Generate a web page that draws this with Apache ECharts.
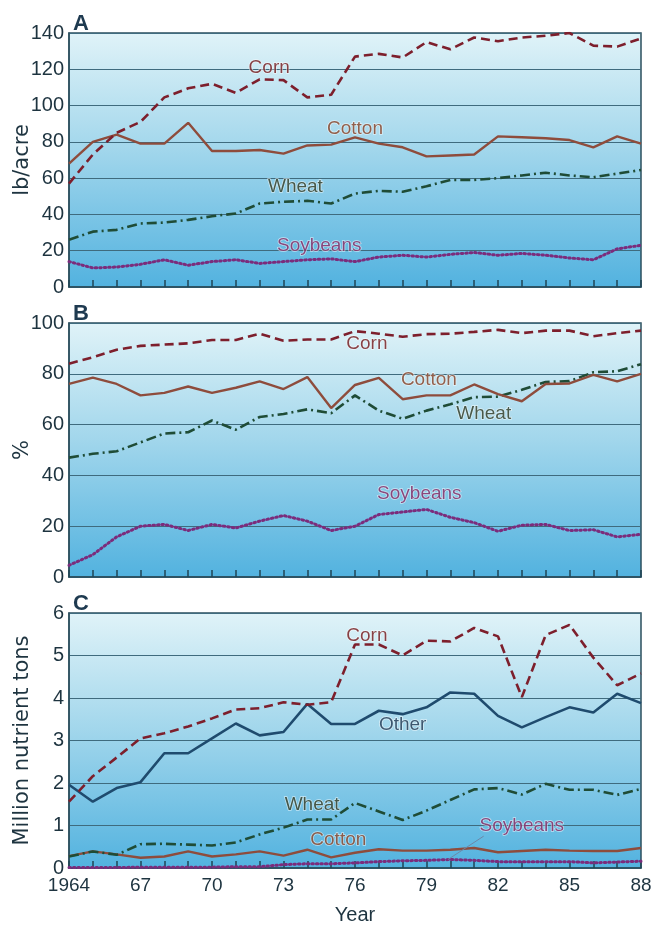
<!DOCTYPE html>
<html><head><meta charset="utf-8">
<script src="https://cdn.jsdelivr.net/npm/echarts@6/dist/echarts.min.js"></script>
<style>html,body{margin:0;padding:0;background:#fff}#c{width:652px;height:929px}</style>
</head><body><div id="c"></div>
<script>
const years = [1964,1965,1966,1967,1968,1969,1970,1971,1972,1973,1974,1975,1976,1977,1978,1979,1980,1981,1982,1983,1984,1985,1986,1987,1988];
const xTickLabels = ['1964','67','70','73','76','79','82','85','88'];

// Panel A: yield, lb/acre
const aCorn     = [57,73,85,91,104.5,109.5,112,107,114.5,114,104.5,106,127,128.5,126.5,135,131,137.5,135.5,137.5,138.5,140,133,132.5,137];
const aCotton   = [68,80,84,79,79,90.5,75,75,75.5,73.5,78,78.5,82.5,79,77,72,72.5,73,83,82.5,82,81,77,83,79];
const aWheat    = [26,30.5,31.5,35,35.5,37,39,40.5,46,47,47.5,46,51.5,53,52.5,55.5,59,59,60,61.5,63,61.5,60.5,62.5,64.5];
const aSoybeans = [14,10.5,11,12.5,15,12,14,15,13,14,15,15.5,14,16.5,17.5,16.5,18,19,17.5,18.5,17.5,16,15,21,23];

// Panel B: % of acreage fertilized
const bCorn     = [84,86.5,89.5,91,91.5,92,93.3,93.3,95.8,93,93.5,93.5,96.8,95.8,94.6,95.6,95.8,96.5,97.3,96,97,97,94.8,96,97];
const bCotton   = [76,78.5,76,71.5,72.5,75,72.5,74.5,77,74,78.7,66.5,75.6,78.4,70,71.5,71.5,75.8,72,69.2,76,76.2,79.6,77,80];
const bWheat    = [47,48.5,49.5,53,56.5,57,61.6,58,63,64.2,66,64.5,71.5,65.5,62.3,65.5,68,70.8,71,73.7,76.8,77.1,80.6,81,83.8];
const bSoybeans = [4.6,8.8,15.8,20,20.7,18.3,20.7,19.3,22,24.2,22,18.3,20,24.6,25.6,26.6,23.5,21.4,18,20.4,20.7,18.3,18.6,15.8,16.8];

// Panel C: million nutrient tons
const cCorn     = [1.56,2.16,2.6,3.05,3.17,3.33,3.52,3.73,3.76,3.9,3.84,3.9,5.26,5.26,5.0,5.35,5.33,5.65,5.45,4.02,5.48,5.72,4.95,4.3,4.58];
const cOther    = [1.96,1.56,1.88,2.02,2.7,2.7,3.05,3.4,3.12,3.2,3.86,3.39,3.39,3.7,3.62,3.78,4.13,4.1,3.58,3.31,3.55,3.78,3.66,4.1,3.88];
const cWheat    = [0.27,0.39,0.31,0.56,0.57,0.55,0.53,0.6,0.79,0.95,1.14,1.14,1.53,1.33,1.13,1.35,1.6,1.85,1.88,1.73,1.98,1.84,1.84,1.72,1.86];
const cCotton   = [0.28,0.39,0.32,0.24,0.27,0.39,0.27,0.32,0.39,0.29,0.43,0.25,0.36,0.44,0.41,0.41,0.43,0.47,0.37,0.4,0.43,0.41,0.4,0.4,0.47];
const cSoybeans = [0.01,0.01,0.01,0.02,0.02,0.02,0.02,0.03,0.03,0.08,0.1,0.1,0.12,0.15,0.17,0.18,0.2,0.18,0.15,0.15,0.15,0.15,0.12,0.14,0.16];

// text annotations: [year, value, text, colorKey]
const aLabels = [[1972.4,121,'Corn','corn'],[1976,87,'Cotton','cotton'],[1973.5,55.5,'Wheat','wheat'],[1974.5,23,'Soybeans','soy']];
const bLabels = [[1976.5,92,'Corn','corn'],[1979.1,77.5,'Cotton','cotton'],[1981.4,64.2,'Wheat','wheat'],[1978.7,32.6,'Soybeans','soy']];
const cLabels = [[1976.5,5.47,'Corn','corn'],[1978,3.37,'Other','other'],[1974.2,1.48,'Wheat','wheat'],[1975.3,0.66,'Cotton','cotton'],[1983,1.0,'Soybeans','soy']];
const soyLeader = [[1981.4,0.75],[1979.9,0.2]];

const col = {corn:'#7d1f2c', cotton:'#8e4c3c', wheat:'#1f4c36', soy:'#7b2c7c', other:'#1f4b6e'};
const txt = {corn:'#6e1418', cotton:'#7e3c22', wheat:'#26341f', soy:'#7a1f5e', other:'#16324d'};
const axisColor = '#1e3440';
const FF = 'Liberation Sans, Arial';
const FN = 'DejaVu Sans';

const grids = [
  {left:69, right:11, top:33, height:254},
  {left:69, right:11, top:323, height:254},
  {left:69, right:11, top:613, height:255}
];
const bg = {type:'linear', x:0, y:0, x2:0, y2:1, colorStops:[
  {offset:0, color:'#e0f3f8'},{offset:0.45, color:'#a3d7ec'},{offset:1, color:'#52b2df'}]};
grids.forEach(g => { g.show = true; g.backgroundColor = bg; g.borderColor = '#2b4f5e'; g.borderWidth = 1.5;
  g.containLabel = false; g.outerBoundsMode = 'none'; });

function xAx(i, showLabels) {
  return {
    type:'value', gridIndex:i, min:1964, max:1988, interval:1,
    axisLine:{show:true, lineStyle:{color:'#2b4f5e', width:1.5}},
    axisTick:{show:true, inside:true, length:7, lineStyle:{color:'#1f4556', width:1.5}},
    splitLine:{show:false},
    axisLabel:{show:showLabels, color:axisColor, fontSize:19, fontFamily:FF, margin:8, hideOverlap:false,
      formatter: v => { const k = (v - 1964) / 3; return Number.isInteger(k) && k < xTickLabels.length ? xTickLabels[k] : ''; }},
    name: showLabels ? 'Year' : '', nameLocation:'middle', nameGap:37, nameMoveOverlap:false,
    nameTextStyle:{color:axisColor, fontSize:20, fontFamily:FF}
  };
}
function yAx(i, max, interval, name) {
  return {
    type:'value', gridIndex:i, min:0, max:max, interval:interval,
    axisLine:{show:true, lineStyle:{color:'#2b4f5e', width:1.5}},
    axisTick:{show:false},
    splitLine:{show:true, lineStyle:{color:'#3f6b7e', width:1}},
    axisLabel:{color:axisColor, fontSize:20, fontFamily:FF, margin:5},
    name:name, nameLocation:'middle', nameGap:36, nameMoveOverlap:false,
    nameTextStyle:{color:axisColor, fontSize:21, fontFamily:FN}
  };
}

const styles = {
  corn:{type:[9,5], width:2.6},
  cotton:{type:'solid', width:2.4},
  wheat:{type:[10,4,2,4], width:2.6},
  soy:{type:[1.5,3], width:3, cap:'round'},
  other:{type:'solid', width:2.6}
};
function line(i, data, key) {
  return {
    type:'line', xAxisIndex:i, yAxisIndex:i, data: years.map((y,k)=>[y,data[k]]),
    showSymbol:false, symbol:'none', smooth:false, silent:true,
    lineStyle:Object.assign({color:col[key]}, styles[key]), z:3
  };
}
function labels(i, arr) {
  return {
    type:'scatter', xAxisIndex:i, yAxisIndex:i, symbolSize:0, silent:true, z:5,
    data: arr.map(a => ({value:[a[0], a[1]], label:{show:true, formatter:a[2], position:'inside',
      color:txt[a[3]], fontSize:19, fontFamily:FF,
      textBorderColor:'rgba(255,255,255,0.7)', textBorderWidth:1.5}}))
  };
}

const series = [
  line(0,aSoybeans,'soy'), line(0,aWheat,'wheat'), line(0,aCotton,'cotton'), line(0,aCorn,'corn'), labels(0,aLabels),
  line(1,bSoybeans,'soy'), line(1,bWheat,'wheat'), line(1,bCotton,'cotton'), line(1,bCorn,'corn'), labels(1,bLabels),
  line(2,cSoybeans,'soy'), line(2,cCotton,'cotton'), line(2,cWheat,'wheat'), line(2,cOther,'other'), line(2,cCorn,'corn'), labels(2,cLabels),
  {type:'line', xAxisIndex:2, yAxisIndex:2, data:soyLeader, showSymbol:false, silent:true, z:4,
   lineStyle:{color:'#6c88a8', width:1}}
];

const chart = echarts.init(document.getElementById('c'), null, {renderer:'canvas'});
chart.setOption({
  animation:false,
  backgroundColor:'#ffffff',
  title:[
    {text:'A', left:68, top:8, textStyle:{color:'#1e3a50', fontSize:22, fontWeight:'bold', fontFamily:FF}},
    {text:'B', left:68, top:298, textStyle:{color:'#1e3a50', fontSize:22, fontWeight:'bold', fontFamily:FF}},
    {text:'C', left:68, top:588, textStyle:{color:'#1e3a50', fontSize:22, fontWeight:'bold', fontFamily:FF}}
  ],
  grid:grids,
  xAxis:[xAx(0,false), xAx(1,false), xAx(2,true)],
  yAxis:[yAx(0,140,20,'lb/acre'), yAx(1,100,20,'%'), yAx(2,6,1,'Million nutrient tons')],
  series:series
});
</script></body></html>
